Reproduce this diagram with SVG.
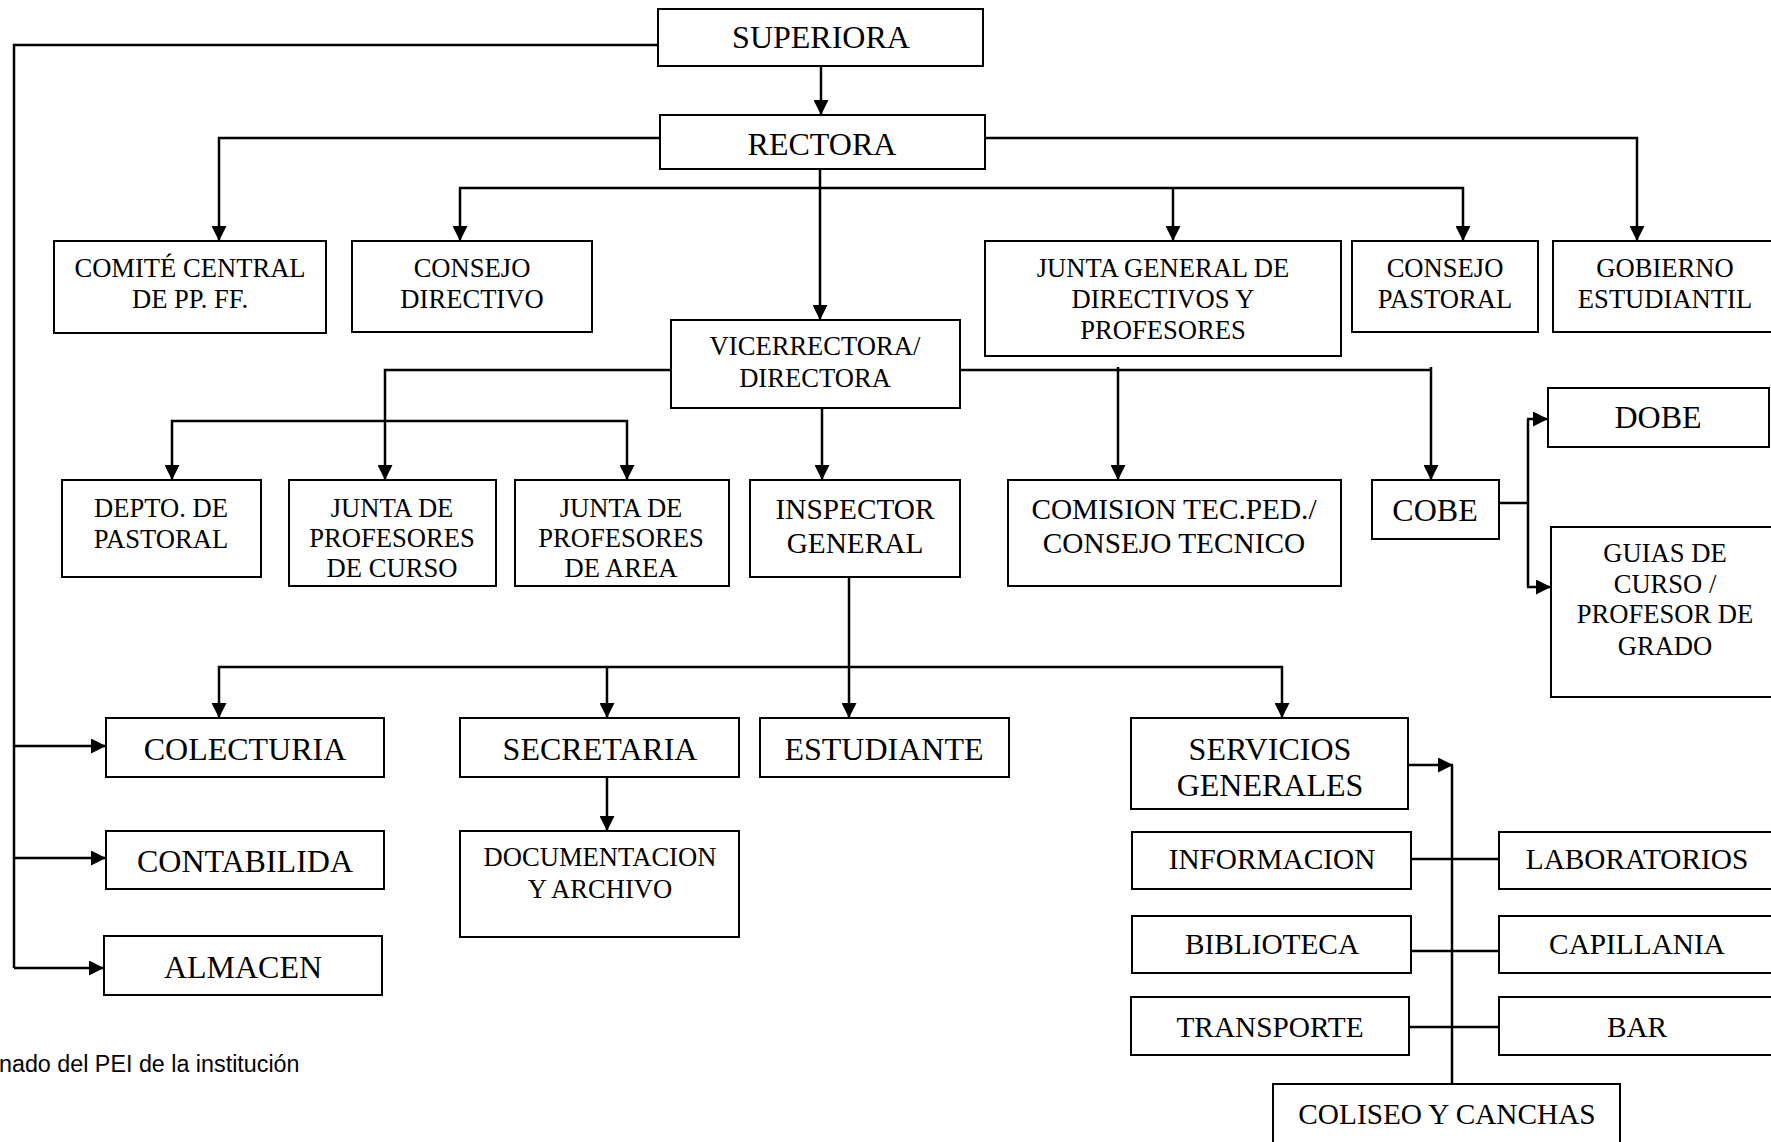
<svg xmlns="http://www.w3.org/2000/svg" width="1771" height="1142" viewBox="0 0 1771 1142">
<style>
.box{fill:#fff;stroke:#000;stroke-width:2}
.ln{fill:none;stroke:#000;stroke-width:2.5}
.ar{fill:none;stroke:#000;stroke-width:2.5;marker-end:url(#ah)}
text{font-family:"Liberation Serif","Times New Roman",serif;fill:#000;text-anchor:middle}
.t32{font-size:32px}
.t29{font-size:29.3px}
.t27{font-size:26.6px}
.note{font-family:"Liberation Sans",Arial,sans-serif;font-size:23.3px;text-anchor:start}
</style>
<defs>
<marker id="ah" markerUnits="userSpaceOnUse" markerWidth="16" markerHeight="15" refX="15" refY="7.5" orient="auto">
<path d="M0,0 L15,7.5 L0,15 z" fill="#000"/>
</marker>
</defs>
<rect width="1771" height="1142" fill="#fff"/>
<g id="connectors">
<path class="ln" d="M658,45 H14 V968"/>
<path class="ar" d="M14,746 H106"/>
<path class="ar" d="M14,858 H106"/>
<path class="ar" d="M14,968 H104"/>
<path class="ar" d="M821,66 V115"/>
<path class="ar" d="M660,138 H219 V241"/>
<path class="ar" d="M985,138 H1637 V241"/>
<path class="ar" d="M820,188 H460 V241"/>
<path class="ar" d="M820,188 H1463 V241"/>
<path class="ar" d="M1173,188 V241"/>
<path class="ar" d="M820,169 V320"/>
<path class="ar" d="M671,370 H385 V480"/>
<path class="ar" d="M385,421 H172 V480"/>
<path class="ar" d="M385,421 H627 V480"/>
<path class="ar" d="M822,408 V480"/>
<path class="ln" d="M960,370 H1431"/>
<path class="ar" d="M1431,367 V480"/>
<path class="ar" d="M1118,367 V480"/>
<path class="ln" d="M1499,503 H1528 M1528,419 V587"/>
<path class="ar" d="M1527,419 H1548"/>
<path class="ar" d="M1527,587 H1551"/>
<path class="ar" d="M849,577 V718"/>
<path class="ar" d="M849,667 H219 V718"/>
<path class="ar" d="M849,667 H1282 V718"/>
<path class="ar" d="M607,667 V718"/>
<path class="ar" d="M607,777 V831"/>
<path class="ar" d="M1408,765 H1453"/>
<path class="ln" d="M1452,765 V1084"/>
<path class="ln" d="M1411,859 H1499 M1411,951 H1501 M1409,1027 H1499"/>
</g>
<g id="superiora"><rect class="box" x="658" y="9" width="325" height="57"/><text class="t32" x="821" y="48">SUPERIORA</text></g>
<g id="rectora"><rect class="box" x="660" y="115" width="325" height="54"/><text class="t32" x="822" y="155">RECTORA</text></g>
<g id="comite"><rect class="box" x="54" y="241" width="272" height="92"/><text class="t27" x="190" y="277">COMITÉ CENTRAL</text><text class="t27" x="190" y="308">DE PP. FF.</text></g>
<g id="consejo-directivo"><rect class="box" x="352" y="241" width="240" height="91"/><text class="t27" x="472" y="277">CONSEJO</text><text class="t27" x="472" y="308">DIRECTIVO</text></g>
<g id="junta-general"><rect class="box" x="985" y="241" width="356" height="115"/><text class="t27" x="1163" y="277">JUNTA GENERAL DE</text><text class="t27" x="1163" y="308">DIRECTIVOS Y</text><text class="t27" x="1163" y="339">PROFESORES</text></g>
<g id="consejo-pastoral"><rect class="box" x="1352" y="241" width="186" height="91"/><text class="t27" x="1445" y="277">CONSEJO</text><text class="t27" x="1445" y="308">PASTORAL</text></g>
<g id="gobierno"><rect class="box" x="1553" y="241" width="240" height="91"/><text class="t27" x="1665" y="277">GOBIERNO</text><text class="t27" x="1665" y="308">ESTUDIANTIL</text></g>
<g id="vicerrectora"><rect class="box" x="671" y="320" width="289" height="88"/><text class="t27" x="815" y="355">VICERRECTORA/</text><text class="t27" x="815" y="387">DIRECTORA</text></g>
<g id="depto"><rect class="box" x="62" y="480" width="199" height="97"/><text class="t27" x="161" y="517">DEPTO. DE</text><text class="t27" x="161" y="548">PASTORAL</text></g>
<g id="junta-curso"><rect class="box" x="289" y="480" width="207" height="106"/><text class="t27" x="392" y="517">JUNTA DE</text><text class="t27" x="392" y="547">PROFESORES</text><text class="t27" x="392" y="577">DE CURSO</text></g>
<g id="junta-area"><rect class="box" x="515" y="480" width="214" height="106"/><text class="t27" x="621" y="517">JUNTA DE</text><text class="t27" x="621" y="547">PROFESORES</text><text class="t27" x="621" y="577">DE AREA</text></g>
<g id="inspector"><rect class="box" x="750" y="480" width="210" height="97"/><text class="t29" x="855" y="519">INSPECTOR</text><text class="t29" x="855" y="553">GENERAL</text></g>
<g id="comision"><rect class="box" x="1008" y="480" width="333" height="106"/><text class="t29" x="1174" y="519">COMISION TEC.PED./</text><text class="t29" x="1174" y="553">CONSEJO TECNICO</text></g>
<g id="cobe"><rect class="box" x="1372" y="480" width="127" height="59"/><text class="t32" x="1435" y="521">COBE</text></g>
<g id="dobe"><rect class="box" x="1548" y="388" width="221" height="59"/><text class="t32" x="1658" y="428">DOBE</text></g>
<g id="guias"><rect class="box" x="1551" y="527" width="240" height="170"/><text class="t27" x="1665" y="562">GUIAS DE</text><text class="t27" x="1665" y="593">CURSO /</text><text class="t27" x="1665" y="623">PROFESOR DE</text><text class="t27" x="1665" y="655">GRADO</text></g>
<g id="colecturia"><rect class="box" x="106" y="718" width="278" height="59"/><text class="t32" x="245" y="760">COLECTURIA</text></g>
<g id="contabilida"><rect class="box" x="106" y="831" width="278" height="58"/><text class="t32" x="245" y="872">CONTABILIDA</text></g>
<g id="almacen"><rect class="box" x="104" y="936" width="278" height="59"/><text class="t32" x="243" y="978">ALMACEN</text></g>
<g id="secretaria"><rect class="box" x="460" y="718" width="279" height="59"/><text class="t32" x="600" y="760">SECRETARIA</text></g>
<g id="estudiante"><rect class="box" x="760" y="718" width="249" height="59"/><text class="t32" x="884" y="760">ESTUDIANTE</text></g>
<g id="documentacion"><rect class="box" x="460" y="831" width="279" height="106"/><text class="t27" x="600" y="866">DOCUMENTACION</text><text class="t27" x="600" y="898">Y ARCHIVO</text></g>
<g id="servicios"><rect class="box" x="1131" y="718" width="277" height="91"/><text class="t32" x="1270" y="760">SERVICIOS</text><text class="t32" x="1270" y="796">GENERALES</text></g>
<g id="informacion"><rect class="box" x="1132" y="832" width="279" height="57"/><text class="t29" x="1272" y="869">INFORMACION</text></g>
<g id="laboratorios"><rect class="box" x="1499" y="832" width="290" height="57"/><text class="t29" x="1637" y="869">LABORATORIOS</text></g>
<g id="biblioteca"><rect class="box" x="1132" y="916" width="279" height="57"/><text class="t29" x="1272" y="954">BIBLIOTECA</text></g>
<g id="capillania"><rect class="box" x="1499" y="916" width="290" height="57"/><text class="t29" x="1637" y="954">CAPILLANIA</text></g>
<g id="transporte"><rect class="box" x="1131" y="997" width="278" height="58"/><text class="t29" x="1270" y="1037">TRANSPORTE</text></g>
<g id="bar"><rect class="box" x="1499" y="997" width="290" height="58"/><text class="t29" x="1637" y="1037">BAR</text></g>
<g id="coliseo"><rect class="box" x="1273" y="1084" width="347" height="70"/><text class="t29" x="1447" y="1124">COLISEO Y CANCHAS</text></g>
<text class="note" x="-1" y="1072">nado del PEI de la institución</text>
</svg>
